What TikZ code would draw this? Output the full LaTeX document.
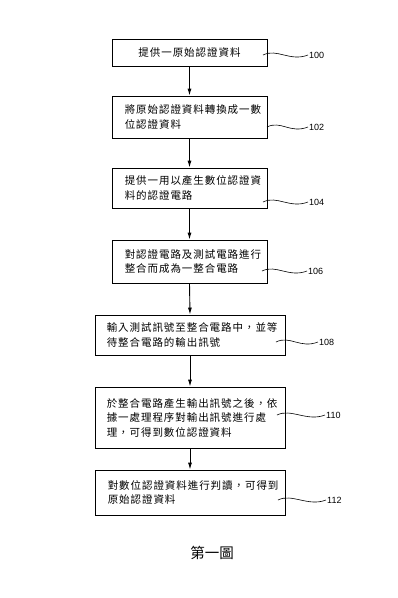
\documentclass[tikz,border=0pt]{standalone}
\usepackage{fontspec}
\setmainfont{Liberation Sans}
\newfontfamily\cjk[LetterSpace=9]{Noto Sans CJK TC}
\newfontfamily\cjkcap{Noto Sans CJK TC}
\usetikzlibrary{arrows.meta}
\begin{document}
\begin{tikzpicture}[x=1pt,y=-1pt,
 box/.style={draw,line width=0.9pt,inner sep=0pt,anchor=center},
 txt/.style={anchor=west,inner sep=0pt,align=left,font=\cjk\fontsize{10.5}{14.5}\selectfont},
 ctxt/.style={anchor=center,inner sep=0pt,align=center,font=\cjk\fontsize{10.5}{14.5}\selectfont},
 lbl/.style={anchor=west,inner sep=1pt,font=\fontsize{9}{10}\selectfont},
 lead/.style={line width=0.6pt},
 flow/.style={line width=0.9pt,-{Latex[length=7pt,width=4pt]}}]
\useasboundingbox (0,0) rectangle (398,598);
% boxes
\node[box,minimum width=155pt,minimum height=27pt] (b1) at (189.5,52.5) {};
\node[box,minimum width=155pt,minimum height=42pt] (b2) at (189.5,117) {};
\node[box,minimum width=155pt,minimum height=40pt] (b3) at (189.5,188) {};
\node[box,minimum width=155pt,minimum height=43pt] (b4) at (189.5,261.5) {};
\node[box,minimum width=190pt,minimum height=40pt] (b5) at (190,335) {};
\node[box,minimum width=190pt,minimum height=61pt] (b6) at (190,417.5) {};
\node[box,minimum width=190pt,minimum height=45pt] (b7) at (190,492.5) {};
% texts
\node[ctxt] (t1) at (b1.center) {提供一原始認證資料};
\node[txt] (t2) at ([xshift=13pt]b2.west) {將原始認證資料轉換成一數\\位認證資料};
\node[txt] (t3) at ([xshift=13pt]b3.west) {提供一用以產生數位認證資\\料的認證電路};
\node[txt] (t4) at ([xshift=13pt]b4.west) {對認證電路及測試電路進行\\整合而成為一整合電路};
\node[txt] (t5) at ([xshift=12pt]b5.west) {輸入測試訊號至整合電路中，並等\\待整合電路的輸出訊號};
\node[txt] (t6) at ([xshift=12pt]b6.west) {於整合電路產生輸出訊號之後，依\\據一處理程序對輸出訊號進行處\\理，可得到數位認證資料};
\node[txt] (t7) at ([xshift=13pt]b7.west) {對數位認證資料進行判讀，可得到\\原始認證資料};
% arrows
\draw[flow] (b1.south) -- (b2.north);
\draw[flow] (b2.south) -- (b3.north);
\draw[flow] (b3.south) -- (b4.north);
\draw[flow] (b4.south) -- (b5.north);
\draw[flow] (b5.south) -- (b6.north);
\draw[flow] (b6.south) -- (b7.north);
% leaders
\coordinate (s100) at (263,55);  \node[lbl] (l100) at (308,55) {100};
\coordinate (s102) at (267,127); \node[lbl] (l102) at (308,127) {102};
\coordinate (s104) at (263,202); \node[lbl] (l104) at (308,202) {104};
\coordinate (s106) at (262,271); \node[lbl] (l106) at (307,271) {106};
\coordinate (s108) at (276,342); \node[lbl] (l108) at (318,342) {108};
\coordinate (s110) at (277,415); \node[lbl] (l110) at (325,415) {110};
\coordinate (s112) at (278,500); \node[lbl] (l112) at (326,500) {112};
\foreach \n in {100,102,104,106,108,110,112}{
  \draw[lead] (s\n) .. controls ([shift={(14,-7)}]s\n) and ([shift={(-18,7)}]l\n.west) .. (l\n.west);
}
% caption
\node[font=\cjkcap\fontsize{14.5}{16}\selectfont] (cap) at (212,553) {第一圖};
\end{tikzpicture}
\end{document}
